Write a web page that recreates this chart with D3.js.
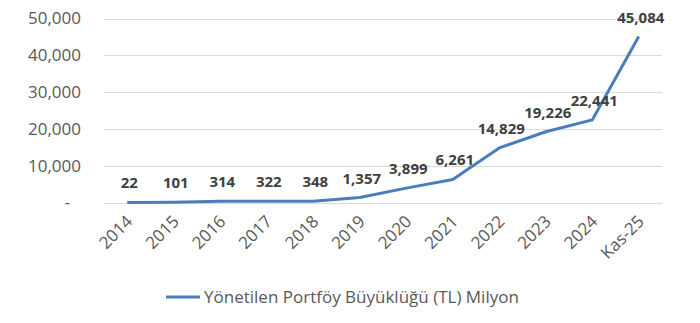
<!DOCTYPE html>
<html>
<head>
<meta charset="utf-8">
<script src="https://cdn.jsdelivr.net/npm/d3@7"></script>
<style>
  html, body { margin: 0; padding: 0; background: #fff; }
  svg { display: block; font-family: "Open Sans", "Noto Sans", sans-serif; }
</style>
</head>
<body>
<svg id="chart" width="700" height="323"></svg>
<script>
// Portfolio size by year (TL, millions)
const categories = ["2014", "2015", "2016", "2017", "2018", "2019", "2020", "2021", "2022", "2023", "2024", "Kas-25"];
const values = [22, 101, 314, 322, 348, 1357, 3899, 6261, 14829, 19226, 22441, 45084];
const yTicks = [0, 10000, 20000, 30000, 40000, 50000];
const seriesName = "Yönetilen Portföy Büyüklüğü (TL) Milyon";

const svg = d3.select("#chart");
const margin = { left: 104, right: 38, top: 18.5, bottom: 120.5 };
const W = 700, H = 323;

const x = d3.scalePoint()
  .domain(categories)
  .range([margin.left, W - margin.right])
  .padding(0.5);

const y = d3.scaleLinear()
  .domain([0, 50000])
  .range([H - margin.bottom, margin.top]);

const fmt = d3.format(",");

// gridlines
svg.append("g")
  .selectAll("line")
  .data(yTicks)
  .join("line")
  .attr("x1", margin.left)
  .attr("x2", W - margin.right)
  .attr("y1", d => Math.round(y(d)) + 0.5)
  .attr("y2", d => Math.round(y(d)) + 0.5)
  .attr("stroke", "#d9d9d9")
  .attr("stroke-width", 1);

// y axis labels
const yAxis = d3.axisLeft(y)
  .tickValues(yTicks)
  .tickSize(0)
  .tickPadding(0)
  .tickFormat(d => d === 0 ? "-" : fmt(d));
const yg = svg.append("g")
  .attr("transform", `translate(${margin.left - 23},0)`)
  .call(yAxis);
yg.select(".domain").remove();
yg.selectAll("text")
  .attr("fill", "#595959")
  .attr("font-size", "17px")
  .attr("font-family", "Open Sans, sans-serif")
  .attr("dx", d => d === 0 ? "-11px" : 0);

// x axis labels (rotated)
const xAxis = d3.axisBottom(x).tickSize(0).tickPadding(0);
const xg = svg.append("g")
  .attr("transform", `translate(0,${H - margin.bottom})`)
  .call(xAxis);
xg.select(".domain").remove();
xg.selectAll("text")
  .attr("fill", "#595959")
  .attr("font-size", "17px")
  .attr("font-family", "Open Sans, sans-serif")
  .attr("text-anchor", "end")
  .attr("dy", 0)
  .attr("y", 0)
  .attr("transform", "translate(6,20) rotate(-45)");

// line
const line = d3.line()
  .x((d, i) => x(categories[i]))
  .y(d => y(d));

svg.append("path")
  .datum(values)
  .attr("fill", "none")
  .attr("stroke", "#4a7ebb")
  .attr("stroke-width", 3)
  .attr("stroke-linejoin", "round")
  .attr("d", line);

// data labels
svg.append("g")
  .selectAll("text")
  .data(values)
  .join("text")
  .attr("x", (d, i) => x(categories[i]) + 2)
  .attr("y", d => y(d) - 14)
  .attr("text-anchor", "middle")
  .attr("font-size", "15px")
  .attr("font-weight", "bold")
  .attr("fill", "#404040")
  .text(d => fmt(d));

// legend
const lg = svg.append("g").attr("transform", "translate(166,297)");
lg.append("line")
  .attr("x1", 0).attr("x2", 34)
  .attr("y1", 0).attr("y2", 0)
  .attr("stroke", "#4a7ebb")
  .attr("stroke-width", 3);
lg.append("text")
  .attr("x", 38)
  .attr("y", 6)
  .attr("font-size", "17px")
  .attr("fill", "#595959")
  .text(seriesName);
</script>
</body>
</html>
